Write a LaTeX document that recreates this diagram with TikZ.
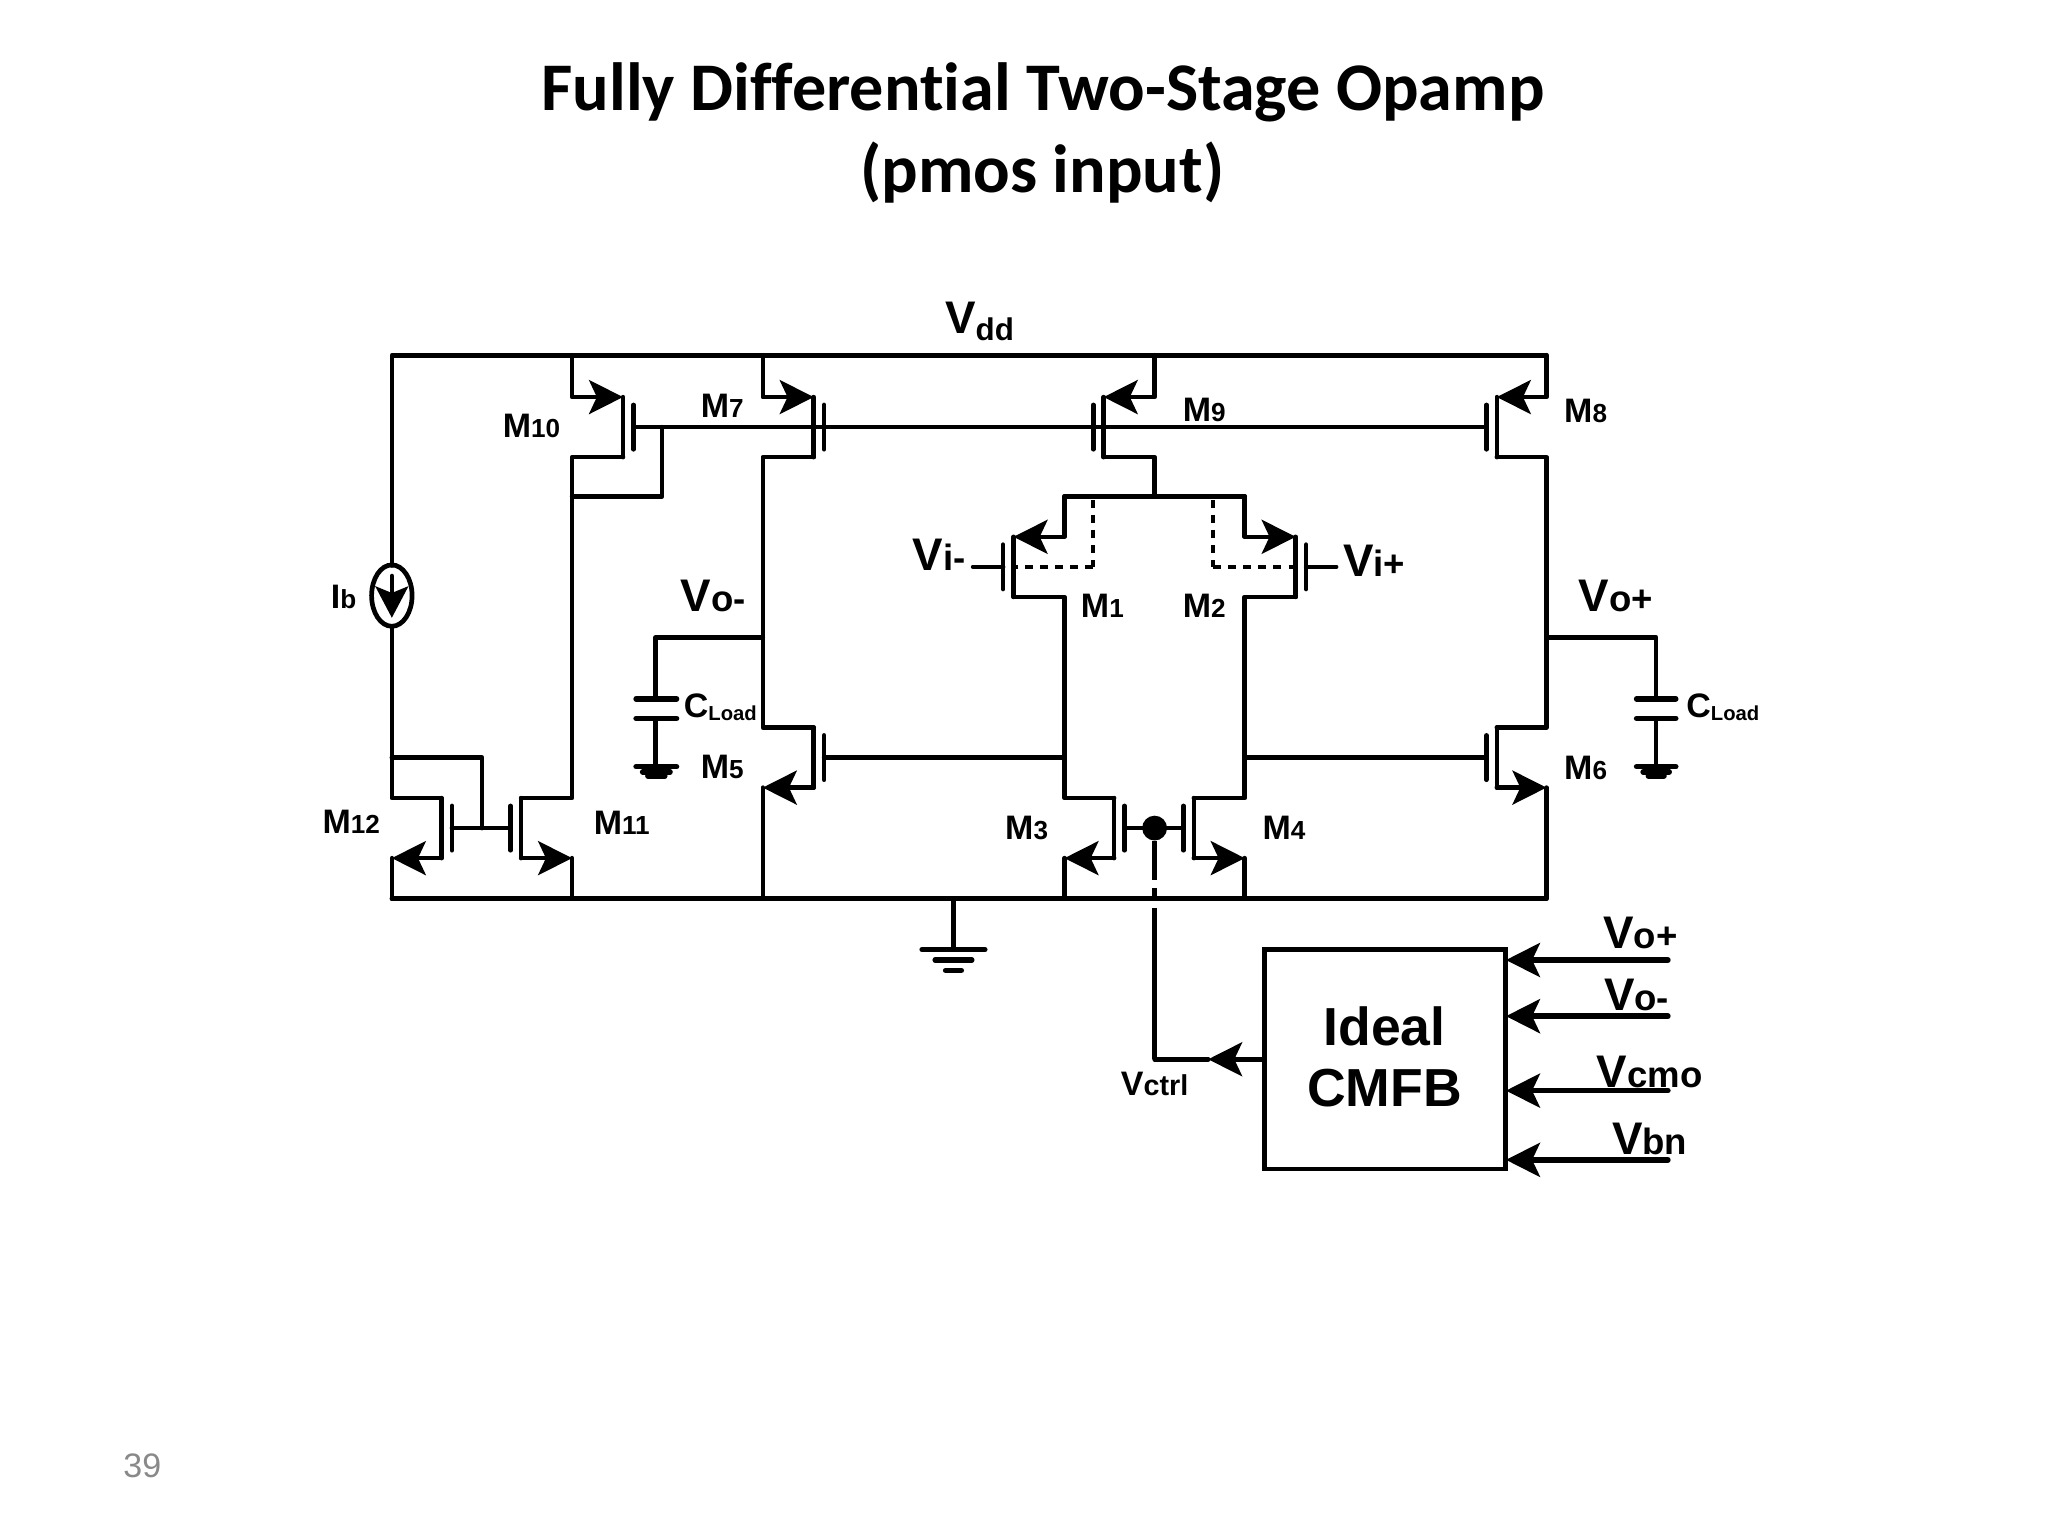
\documentclass[tikz,border=0pt]{standalone}
\usepackage{fontspec}
\setmainfont{Liberation Sans}
\newfontfamily\titlefont[RawFeature={-liga}]{Carlito}
\usetikzlibrary{arrows.meta,shapes.geometric}
\newcommand\fsz[1]{\fontsize{#1}{#1}\selectfont}
% big letter + smaller trailing text, as the slide prints them
\newcommand\lbl[4]{{\bfseries\fsz{#1}#2\fsz{#3}#4}}
\newcommand\lowlbl[5]{{\bfseries\fsz{#1}#2\fsz{#3}\raisebox{#5}[0pt][0pt]{#4}}}
\newcommand\mlbl[1]{\lbl{26}{M}{20}{#1}}
\newcommand\vlbl[1]{\lbl{35}{V}{28}{#1}}
% \mosf{name}{wire x}{top y}{signed offset of channel from wire}
\newcommand\mosf[4]{%
  \pgfmathsetmacro\chx{#2+#4}%
  \pgfmathsetmacro\gx{#2+#4+8*sign(#4)}%
  \pgfmathsetmacro\yb{#3+46}%
  \pgfmathsetmacro\ym{#3+23}%
  \pgfmathsetmacro\yu{#3+6}%
  \pgfmathsetmacro\yl{#3+40}%
  \coordinate (#1-tw) at (#2,#3);
  \coordinate (#1-bw) at (#2,\yb);
  \coordinate (#1-tc) at (\chx,#3);
  \coordinate (#1-bc) at (\chx,\yb);
  \coordinate (#1-g) at (\gx,\ym);
  \draw[wire] (#1-tc) -- (#1-bc);
  \draw[wire] (\gx,\yu) -- (\gx,\yl);
}
\tikzset{
  wire/.style={line width=3.5pt,line cap=round,line join=round,draw=black},
  thick wire/.style={wire,line width=4.2pt},
  tip/.style={-{Stealth[length=26pt,width=26pt,inset=6pt]}},
  lab/.style={inner sep=0pt,outer sep=0pt,anchor=center,text=black},
  dashed wire/.style={line width=3.2pt,dash pattern=on 6pt off 5.5pt},
}
\begin{document}
\begin{tikzpicture}[x=1pt,y=-1pt]
\useasboundingbox (0,0) rectangle (1568,1176);

% title
\node[lab,font=\titlefont\bfseries\fsz{52.2}] (t1) at (798.5,71) {Fully Differential Two-Stage Opamp};
\node[lab,font=\titlefont\bfseries\fsz{52.2}] (t2) at (798,132) {(pmos input)};
\node[lab,text={rgb,255:red,137;green,137;blue,137},font=\fsz{26}] (pg) at (109,1122) {39};

% transistors
\mosf{m10}{438}{304}{39}
\mosf{m7}{584}{304}{39}
\mosf{m9}{884}{304}{-39}
\mosf{m8}{1184}{304}{-38}
\mosf{m1}{815}{411}{-39}
\mosf{m2}{953}{411}{39}
\mosf{m5}{584}{557}{39}
\mosf{m6}{1184}{557}{-38}
\mosf{m3}{815}{611}{38}
\mosf{m4}{953}{611}{-39}
\mosf{m12}{300}{611}{38}
\mosf{m11}{438}{611}{-39}

% rails
\coordinate (vl) at (300,272);
\coordinate (vr) at (1184,272);
\coordinate (gl) at (300,688);
\coordinate (gr) at (1184,688);
\draw[wire] (gl) -- (m12-bw) (vr) -- (vl) -- (300,433);
\draw[wire] (gl) -- (gr);

% current source
\node[draw,ellipse,line width=3.6pt,minimum width=31pt,minimum height=47pt,inner sep=0pt] (ib) at (300,456) {};
\draw[wire,-{Stealth[length=24pt,width=25pt,inset=5pt]}] (300,441) -- (300,473);
\draw[wire] (ib.south) -- (m12-tw) -- (m12-tc);
\draw[wire,tip] (m12-bc) -- (m12-bw);

% top drains/sources
\draw[wire,tip] (438,272) -- (m10-tw) -- (m10-tc);
\draw[wire,tip] (584,272) -- (m7-tw) -- (m7-tc);
\draw[wire,tip] (884,272) -- (m9-tw) -- (m9-tc);
\draw[wire,tip] (vr) -- (m8-tw) -- (m8-tc);

% bias line and diode connection
\draw[wire] (m10-g) -- (m8-g);
\coordinate (dk) at (507,327);
\coordinate (dj) at (507,380);
\coordinate (dw) at (438,380);
\draw[wire] (dk) -- (dj) -- (dw);
\draw[wire] (m10-bc) -- (m10-bw) -- (m11-tw) -- (m11-tc);
\draw[wire] (m7-bc) -- (m7-bw) -- (m5-tw) -- (m5-tc);
\draw[wire] (m8-bc) -- (m8-bw) -- (m6-tw) -- (m6-tc);
\draw[wire,tip] (m5-bc) -- (m5-bw);
\draw[wire,tip] (m6-bc) -- (m6-bw);
\draw[wire] (m5-bw) -- (584,688);
\draw[wire] (m6-bw) -- (gr);

% M11/M12
\draw[wire,tip] (m11-bc) -- (m11-bw);
\draw[wire] (m11-bw) -- (438,688);
\draw[wire] (m12-g) -- (m11-g);
\coordinate (dk2) at (369,634);
\draw[wire] (dk2) -- (369,580) -- (300,580);

% differential pair
\coordinate (tail) at (884,380);
\draw[wire] (m9-bc) -- (m9-bw) -- (tail);
\draw[wire] (815,380) -- (953,380);
\draw[wire,tip] (815,380) -- (m1-tw) -- (m1-tc);
\draw[wire,tip] (953,380) -- (m2-tw) -- (m2-tc);
\draw[wire] (m1-bc) -- (m1-bw) -- (m3-tw) -- (m3-tc);
\draw[wire] (m2-bc) -- (m2-bw) -- (m4-tw) -- (m4-tc);
\coordinate (vim) at (745,434);
\coordinate (vip) at (1023,434);
\draw[wire] (vim) -- (m1-g);
\draw[wire] (m2-g) -- (vip);
\draw[dashed wire] (837,383) -- (837,434);
\draw[dashed wire] (929,383) -- (929,434);
\draw[dashed wire] (837,434) -- (777,434);
\draw[dashed wire] (929,434) -- (991,434);

% mirror
\draw[wire,tip] (m3-bc) -- (m3-bw);
\draw[wire,tip] (m4-bc) -- (m4-bw);
\draw[wire] (m3-bw) -- (815,688);
\draw[wire] (m4-bw) -- (953,688);
\draw[wire] (m3-g) -- (m4-g);
\draw[wire] (m5-g) -- (815,580);
\draw[wire] (953,580) -- (m6-g);
\node[circle,fill=black,minimum size=19pt,inner sep=0pt] (ctl) at (884,634) {};
\draw[wire,line cap=butt] (ctl) -- (884,674);
\draw[wire,line cap=butt] (884,680) -- (884,687);
\draw[wire,line cap=butt] (884,695) -- (884,811);

% outputs and load caps
\coordinate (cl) at (502,488);
\coordinate (cr) at (1268,488);
\draw[wire] (584,488) -- (cl) -- (502,535);
\draw[wire] (1184,488) -- (cr) -- (1268,535);
\draw[thick wire] (487,535) -- (518,535) (487,550) -- (518,550);
\draw[thick wire] (1253,535) -- (1283,535) (1253,550) -- (1283,550);
\draw[wire] (502,550) -- (502,588);
\draw[wire] (1268,550) -- (1268,588);
\draw[thick wire] (487,587) -- (518,587) (1253,587) -- (1283,587);
\draw[thick wire] (492,591) -- (513,591) (1258,591) -- (1278,591);
\draw[thick wire] (496,594) -- (509,594) (1262,594) -- (1274,594);

% ground
\coordinate (gnda) at (730,688);
\draw[wire] (gnda) -- (730,727);
\draw[thick wire] (706,727) -- (754,727) (716,735) -- (744,735) (724,743) -- (736,743);

% CMFB
\node[draw,line width=3.8pt,minimum width=185pt,minimum height=168pt,inner sep=0pt,outer sep=0pt,anchor=north west] (cmfb) at (968,727) {};
\node[lab,font=\bfseries\fsz{41}] (ideal) at (1060,786) {Ideal};
\node[lab,font=\bfseries\fsz{41}] (cm) at (1060,833) {CMFB};
\coordinate (vc) at (884,811);
\draw[wire,tip] (968,811) -- (925,811);
\draw[wire] (925,811) -- (vc);
\coordinate (i1) at (1277,735);
\coordinate (i2) at (1277,778);
\coordinate (i3) at (1277,835);
\coordinate (i4) at (1277,888);
\draw[thick wire,tip] (i1) -- (1153,735);
\draw[thick wire,tip] (i2) -- (1153,778);
\draw[thick wire,tip] (i3) -- (1153,835);
\draw[thick wire,tip] (i4) -- (1153,888);

% labels
\node[lab] (lm10) at (407,326) {\mlbl{10}};
\node[lab] (lm7) at (553,311) {\mlbl{7}};
\node[lab] (lm9) at (922,314) {\mlbl{9}};
\node[lab] (lm8) at (1214,315) {\mlbl{8}};
\node[lab] (lm1) at (844,464) {\mlbl{1}};
\node[lab] (lm2) at (922,464) {\mlbl{2}};
\node[lab] (lm5) at (553,587) {\mlbl{5}};
\node[lab] (lm6) at (1214,588) {\mlbl{6}};
\node[lab] (lm3) at (786,634) {\mlbl{3}};
\node[lab] (lm4) at (983,634) {\mlbl{4}};
\node[lab] (lm12) at (269,629) {\mlbl{12}};
\node[lab] (lm11) at (476,630) {\mlbl{11}};
\node[lab] (lib) at (263,457) {\lbl{26}{I}{20}{b}};
\node[lab] (lvdd) at (750,243.5) {\lowlbl{35}{V}{24}{dd}{-5pt}};
\node[lab] (lvim) at (719,425) {\vlbl{i-}};
\node[lab] (lvip) at (1052,429) {\vlbl{i+}};
\node[lab] (lvom) at (546,456) {\vlbl{o-}};
\node[lab] (lvop) at (1237,456) {\vlbl{o+}};
\node[lab] (lcl) at (551.5,540.5) {\lowlbl{26}{C}{15.5}{Load}{-2.5pt}};
\node[lab] (lcr) at (1319,540.5) {\lowlbl{26}{C}{15.5}{Load}{-2.5pt}};
\node[lab] (lv1) at (1256,714) {\vlbl{o+}};
\node[lab] (lv2) at (1253,762) {\vlbl{o-}};
\node[lab] (lv3) at (1263,821) {\vlbl{cmo}};
\node[lab] (lv4) at (1263,872) {\vlbl{bn}};
\node[lab] (lvc) at (884,830) {\lbl{26}{V}{22}{ctrl}};
\end{tikzpicture}
\end{document}
